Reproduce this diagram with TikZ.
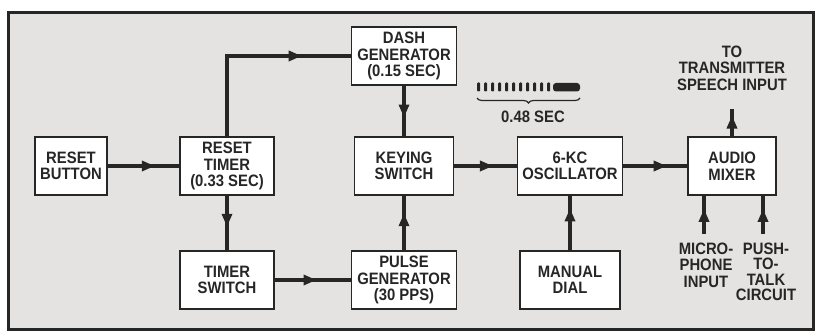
\documentclass[tikz,border=0pt]{standalone}
\usepackage{fontspec}
\setmainfont[FakeStretch=0.9]{Liberation Sans}
\usepackage{tikz}
\usetikzlibrary{arrows.meta,positioning,decorations.markings,decorations.pathreplacing}
\usepackage{xcolor}
\definecolor{panelgray}{RGB}{229,227,226}
\definecolor{inkgray}{RGB}{38,38,38}

\begin{document}
\begin{tikzpicture}[x=1pt, y=-1pt, every node/.style={font=\fontsize{16.5}{16.5}\selectfont\bfseries, text=inkgray, align=center},
  blk/.style={draw=inkgray, line width=1.8pt, fill=white, minimum height=58pt, inner sep=1pt},
  conn/.style={draw=inkgray, line width=3.2pt},
  arr/.style={conn, postaction={decorate}, decoration={markings, mark=at position #1 with {\arrow[inkgray]{Triangle[length=13pt,width=10pt]}}}},
  arr/.default=0.6]
\useasboundingbox (0,0) rectangle (816,331);
\filldraw[fill=panelgray, draw=inkgray, line width=3pt] (8,13) rectangle (813,329);
\node[blk, minimum width=72pt] (rbutton) at (71,166) {RESET\\BUTTON};
\node[blk, minimum width=94pt] (rtimer) at (227,166) {RESET\\TIMER\\(0.33 SEC)};
\node[blk, minimum width=94pt] (tswitch) at (227,280) {TIMER\\SWITCH};
\node[blk, minimum width=105pt] (dash) at (404,56) {DASH\\GENERATOR\\(0.15 SEC)};
\node[blk, minimum width=99pt] (keying) at (404,166) {KEYING\\SWITCH};
\node[blk, minimum width=105pt] (pulse) at (404,280) {PULSE\\GENERATOR\\(30 PPS)};
\node[blk, minimum width=105pt] (osc) at (570,166) {6-KC\\OSCILLATOR};
\node[blk, minimum width=100pt] (dial) at (570,280) {MANUAL\\DIAL};
\node[blk, minimum width=88pt] (mixer) at (732,166) {AUDIO\\MIXER};
\coordinate (txend) at (732,109);
\node[above=15pt of txend] (txout) {TO\\TRANSMITTER\\SPEECH INPUT};
\coordinate (micin) at (704,234);
\coordinate (pttin) at (763,234);
\node[below=5pt of micin, xshift=2pt] (mic) {MICRO-\\PHONE\\INPUT};
\node[below=5pt of pttin, xshift=3pt, font=\fontsize{16.5}{15.6}\selectfont\bfseries] (ptt) {PUSH-\\TO-\\TALK\\CIRCUIT};
\draw[arr=0.66] (rbutton) -- (rtimer);
\draw[arr=0.76] (rtimer.north) |- (dash);
\draw[arr=0.57] (rtimer) -- (tswitch);
\draw[arr=0.55] (tswitch) -- (pulse);
\draw[arr=0.63] (dash) -- (keying);
\draw[arr=0.68] (pulse) -- (keying);
\draw[arr=0.62] (keying) -- (osc);
\draw[arr=0.77] (dial) -- (osc);
\draw[arr=0.68] (osc) -- (mixer);
\draw[arr=0.76] (mixer) -- (txend);
\draw[arr=0.66] (micin) -- (micin |- mixer.south);
\draw[arr=0.66] (pttin) -- (pttin |- mixer.south);
\foreach \i in {0,...,10} {\fill[inkgray, rounded corners=1pt] (477+7*\i,82.5) rectangle +(3,9);}
\fill[inkgray, rounded corners=3pt] (553,83) rectangle (580,91.5);
\draw[inkgray, line width=1.2pt, decorate, decoration={brace, amplitude=5pt, mirror}] (477,98) -- (580,98);
\node (pulselen) at (533,117) {0.48 SEC};
\end{tikzpicture}
\end{document}
